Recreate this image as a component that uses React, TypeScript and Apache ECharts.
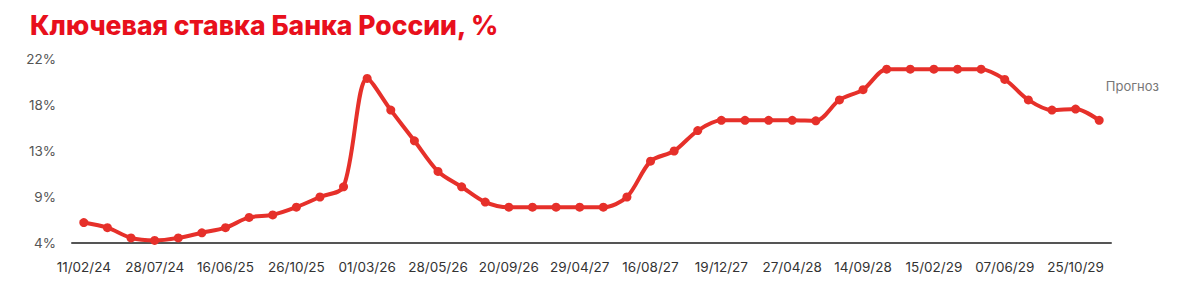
import React, { useEffect, useRef } from "react";
import * as echarts from "echarts";

const tickLabels = [
  "11/02/24", "28/07/24", "16/06/25", "26/10/25", "01/03/26", "28/05/26", "20/09/26", "29/04/27",
  "16/08/27", "19/12/27", "27/04/28", "14/09/28", "15/02/29", "07/06/29", "25/10/29",
];

const rateValues = [
  6.0, 5.5, 4.5, 4.25, 4.5, 5.0, 5.5, 6.5, 6.75, 7.5, 8.5, 9.5,
  20.1, 17.0, 14.0, 11.0, 9.5, 8.0, 7.5, 7.5, 7.5, 7.5, 7.5, 8.5,
  12.0, 13.0, 15.0, 16.0, 16.0, 16.0, 16.0, 15.95, 18.0, 19.0, 21.0, 21.0,
  21.0, 21.0, 21.0, 20.0, 18.0, 17.0, 17.1, 16.0,
];

const yTicks = [4, 8.5, 13, 17.5, 22];

const categories = rateValues.map((_, i) => (i % 3 === 0 ? tickLabels[i / 3] : `p${i}`));

export default function App() {
  const ref = useRef<HTMLDivElement>(null);
  useEffect(() => {
    if (!ref.current) return;
    const chart = echarts.init(ref.current, undefined, { renderer: "svg" });
    chart.setOption({
      animation: false,
      title: {
        text: "Ключевая ставка Банка России, %",
        left: 17,
        top: -2,
        textStyle: {
          color: "#e8101c",
          fontFamily: "Inter",
          fontWeight: 800,
          fontSize: 26.5,
        },
      },
      grid: { left: 64, right: 81, top: 51, bottom: 34, containLabel: false },
      xAxis: {
        type: "category",
        data: categories,
        boundaryGap: true,
        axisLine: { lineStyle: { color: "#555", width: 2 } },
        axisTick: { show: false },
        axisLabel: {
          interval: 2,
          color: "#333",
          fontFamily: "Inter",
          fontSize: 13.5,
          margin: 17,
          formatter: (v: string) => (v.startsWith("p") ? "" : v),
        },
        splitLine: { show: false },
      },
      yAxis: {
        type: "value",
        min: yTicks[0],
        max: yTicks[yTicks.length - 1],
        interval: 4.5,
        axisLine: { show: false },
        axisTick: { show: false },
        splitLine: { show: false },
        axisLabel: {
          color: "#555",
          fontFamily: "Inter",
          fontSize: 13.5,
          margin: 16,
          formatter: (v: number) => `${Math.round(v)}%`,
        },
      },
      graphic: [
        {
          type: "text",
          right: 33,
          top: 71,
          style: { text: "Прогноз", fill: "#777", font: "13px Inter" },
        },
      ],
      series: [
        {
          type: "line",
          data: rateValues,
          smooth: 0.3,
          symbol: "circle",
          symbolSize: 9,
          lineStyle: { color: "#e6302a", width: 4 },
          itemStyle: { color: "#e6302a" },
        },
      ],
    });
    return () => chart.dispose();
  }, []);
  return <div ref={ref} style={{ width: 1184, height: 269 }} />;
}
